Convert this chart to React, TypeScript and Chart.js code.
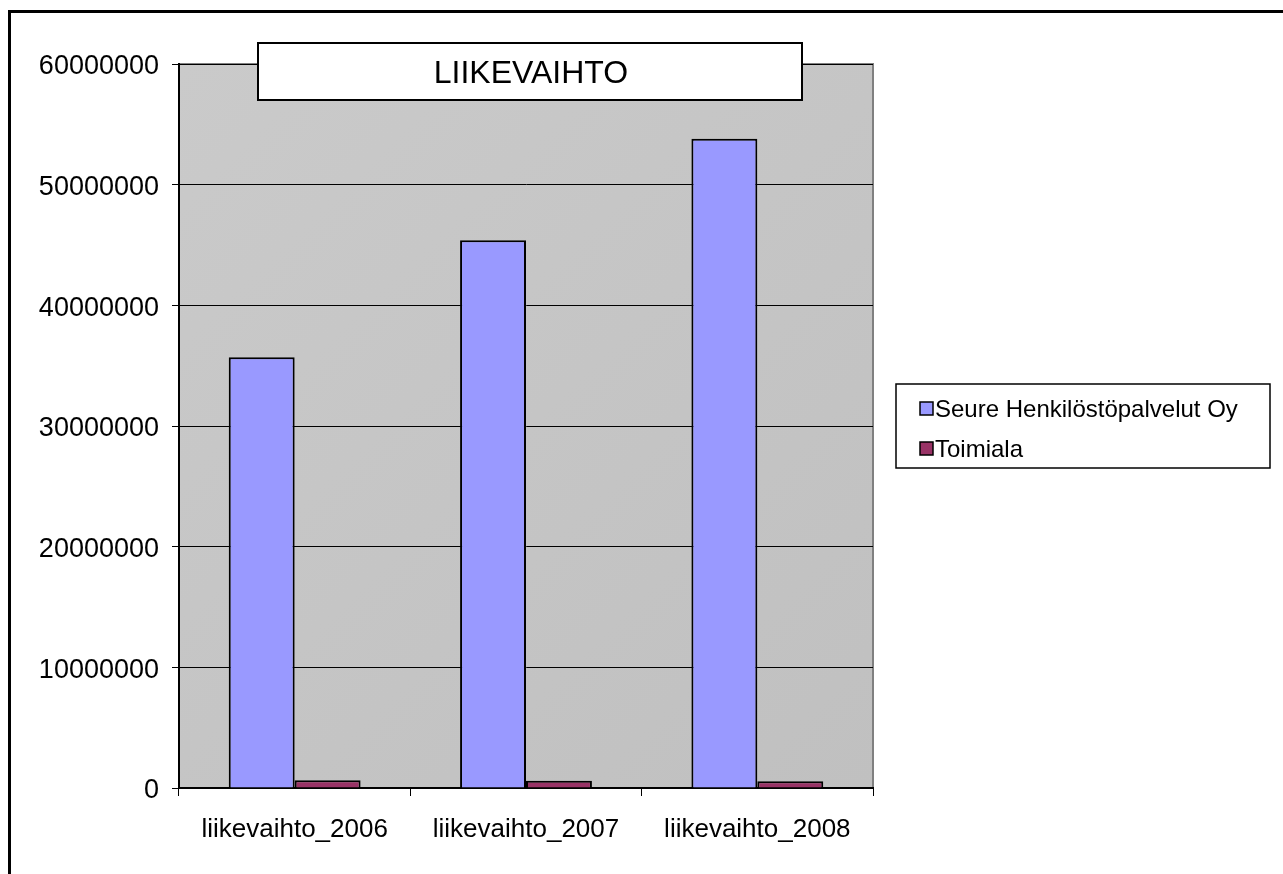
import React, { useEffect, useRef } from "react";
import { Chart, registerables } from "chart.js";

Chart.register(...registerables);

const categories = ["liikevaihto_2006", "liikevaihto_2007", "liikevaihto_2008"];
const seureValues = [35700000, 45400000, 53800000];
const toimialaValues = [650000, 600000, 550000];
const seriesNames = ["Seure Henkilöstöpalvelut Oy", "Toimiala"];
const seriesColors = ["#9999FF", "#993366"];
const chartTitle = "LIIKEVAIHTO";
const yMax = 60000000;
const yStep = 10000000;

const W = 1283;
const H = 874;

export default function App() {
  const ref = useRef<HTMLCanvasElement | null>(null);

  useEffect(() => {
    if (!ref.current) return;
    const decor = {
      id: "decor",
      beforeDraw(chart: any) {
        const ctx = chart.ctx;
        const a = chart.chartArea;
        ctx.save();
        ctx.fillStyle = "#ffffff";
        ctx.fillRect(0, 0, W, H);
        // outer frame
        ctx.strokeStyle = "#000000";
        ctx.lineWidth = 3;
        ctx.strokeRect(9.5, 11.5, W + 20, H + 20);
        // plot background
        const g = ctx.createLinearGradient(a.left, a.top, a.right, a.bottom);
        g.addColorStop(0, "#CACACA");
        g.addColorStop(1, "#C0C0C0");
        ctx.fillStyle = g;
        ctx.fillRect(a.left, a.top, a.right - a.left, a.bottom - a.top);
        ctx.strokeStyle = "#808080";
        ctx.lineWidth = 2;
        ctx.strokeRect(a.left, a.top, a.right - a.left, a.bottom - a.top);
        ctx.restore();
      },
      afterDraw(chart: any) {
        const ctx = chart.ctx;
        ctx.save();
        // title box
        ctx.fillStyle = "#ffffff";
        ctx.fillRect(258, 43, 544, 57);
        ctx.strokeStyle = "#000000";
        ctx.lineWidth = 2;
        ctx.strokeRect(258, 43, 544, 57);
        ctx.fillStyle = "#000000";
        ctx.font = "32px 'Liberation Sans', Arial, sans-serif";
        ctx.textAlign = "center";
        ctx.textBaseline = "middle";
        ctx.fillText(chartTitle, 531, 74);
        // legend
        ctx.fillStyle = "#ffffff";
        ctx.fillRect(896, 384, 374, 84);
        ctx.strokeStyle = "#000000";
        ctx.lineWidth = 1.5;
        ctx.strokeRect(896, 384, 374, 84);
        ctx.font = "24px 'Liberation Sans', Arial, sans-serif";
        ctx.textAlign = "left";
        ctx.textBaseline = "middle";
        const ys = [409, 449];
        seriesNames.forEach((name, i) => {
          ctx.fillStyle = seriesColors[i];
          ctx.fillRect(920, ys[i] - 7, 13, 13);
          ctx.strokeStyle = "#000000";
          ctx.lineWidth = 1.5;
          ctx.strokeRect(920, ys[i] - 7, 13, 13);
          ctx.fillStyle = "#000000";
          ctx.fillText(name, 935, ys[i] + 1);
        });
        ctx.restore();
      },
    };

    const chart = new Chart(ref.current, {
      type: "bar",
      data: {
        labels: categories,
        datasets: [
          {
            label: seriesNames[0],
            data: seureValues,
            backgroundColor: seriesColors[0],
            borderColor: "#000000",
            borderWidth: 2,
            categoryPercentage: 0.57,
            barPercentage: 1,
          },
          {
            label: seriesNames[1],
            data: toimialaValues,
            backgroundColor: seriesColors[1],
            borderColor: "#000000",
            borderWidth: 2,
            categoryPercentage: 0.57,
            barPercentage: 1,
          },
        ],
      },
      options: {
        responsive: false,
        animation: false,
        events: [],
        layout: { padding: { top: 64, right: W - 873, left: 0, bottom: 0 } },
        plugins: {
          legend: { display: false },
          title: { display: false },
          tooltip: { enabled: false },
        },
        scales: {
          x: {
            offset: true,
            grid: {
              display: true,
              drawOnChartArea: false,
              drawTicks: true,
              tickLength: 8,
              color: "#000000",
              offset: true,
            },
            border: { display: true, color: "#000000", width: 2 },
            ticks: {
              color: "#000000",
              padding: 18,
              font: { family: "'Liberation Sans', Arial", size: 26 },
              maxRotation: 0,
              autoSkip: false,
            },
            afterFit: (s: any) => {
              s.height = H - 788;
            },
          },
          y: {
            min: 0,
            max: yMax,
            ticks: {
              stepSize: yStep,
              color: "#000000",
              padding: 13,
              labelOffset: 3,
              font: { family: "'Liberation Sans', Arial", size: 27 },
              callback: (v: any) => String(v),
            },
            grid: {
              color: "#000000",
              lineWidth: 1,
              tickLength: 7,
            },
            border: { display: true, color: "#000000", width: 2 },
            afterFit: (s: any) => {
              s.width = 179;
            },
          },
        },
      },
      plugins: [decor],
    });
    return () => chart.destroy();
  }, []);

  return (
    <div style={{ position: "fixed", left: 0, top: 0, width: W, height: H, overflow: "hidden", background: "#fff" }}>
      <canvas ref={ref} width={W} height={H} style={{ display: "block", width: W, height: H }} />
    </div>
  );
}
